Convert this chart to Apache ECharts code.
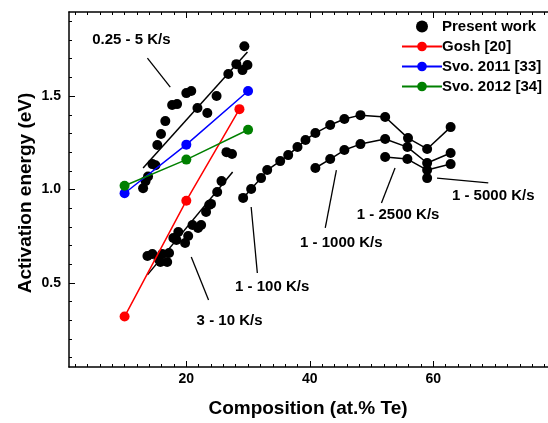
<!DOCTYPE html>
<html><head><meta charset="utf-8">
<script src="https://cdn.jsdelivr.net/npm/echarts@6/dist/echarts.min.js"></script>
<style>html,body{margin:0;padding:0;background:#fff}#c{width:548px;height:423px}</style>
</head><body><div id="c"></div>
<script>
// ---------- data ----------
const xTickLabels = [20, 40, 60];
const yTickLabels = [0.5, 1.0, 1.5];
const xMinorTicks = []; for (let v = 2; v <= 78; v += 2) xMinorTicks.push(v);
const yMinorTicks = []; for (let v = 1; v <= 19; v++) yMinorTicks.push(v / 10);

// Present work, 0.25 - 5 K/s
const present025_5 = [[13.0,1.007],[13.4,1.045],[13.8,1.07],[14.5,1.136],[15.0,1.13],[15.3,1.238],[15.9,1.297],[16.6,1.366],[17.7,1.452],[18.5,1.457],[20.0,1.516],[20.8,1.527],[21.8,1.436],[23.4,1.409],[24.9,1.50],[26.8,1.618],[28.1,1.671],[29.1,1.639],[29.9,1.666],[29.4,1.767],[26.5,1.20],[27.4,1.19]];
// Present work, 3 - 10 K/s
const present3_10 = [[13.7,0.644],[14.5,0.655],[15.5,0.628],[15.8,0.612],[16.1,0.655],[16.9,0.612],[17.2,0.66],[17.9,0.74],[18.4,0.73],[18.7,0.773],[19.8,0.714],[20.3,0.751],[21.0,0.81],[21.9,0.794],[22.4,0.81],[23.2,0.88],[23.7,0.917],[24.0,0.923],[25.0,0.987],[25.7,1.045]];
// Present work chains
const chain1_100 = [[29.2,0.955],[30.5,1.003],[32.1,1.061],[33.1,1.104],[35.2,1.152],[36.5,1.184],[38.0,1.227],[39.3,1.265],[40.9,1.302],[43.3,1.345],[45.6,1.377],[48.2,1.398],[52.2,1.388],[55.9,1.275],[59.0,1.217],[62.8,1.334]];
const chain1_1000 = [[40.9,1.115],[43.3,1.163],[45.6,1.211],[48.2,1.243],[52.2,1.270],[55.8,1.227],[59.0,1.142],[62.8,1.195]];
const chain1_2500 = [[52.2,1.174],[55.8,1.163],[59.0,1.104],[62.8,1.136]];
const point1_5000 = [[59.0,1.061]];
// linear fits
const fit025_5 = [[13.0,1.115],[29.9,1.736]];
const fit3_10 = [[13.7,0.543],[27.5,1.094]];
// literature
const gosh = [[10,0.32],[20,0.94],[28.6,1.43]];
const svo2011 = [[10,0.98],[20,1.24],[30,1.527]];
const svo2012 = [[10,1.02],[20,1.16],[30,1.32]];
// annotations: text, text position, leader from, leader to (data units)
const notes = [
  ['0.25 - 5 K/s', [11.1,1.80], [13.7,1.703], [17.4,1.548]],
  ['3 - 10 K/s',   [27.0,0.297], [20.8,0.639], [23.6,0.409]],
  ['1 - 100 K/s',  [33.9,0.479], [30.5,0.906], [31.5,0.553]],
  ['1 - 1000 K/s', [45.1,0.714], [44.3,1.104], [42.5,0.794]],
  ['1 - 2500 K/s', [54.3,0.864], [53.8,1.115], [51.6,0.928]],
  ['1 - 5000 K/s', [69.7,0.965], [60.6,1.061], [68.9,1.035]]
];

// ---------- chart ----------
const FONT = '"Liberation Sans", Arial, Helvetica, sans-serif';
const chart = echarts.init(document.getElementById('c'), null, {renderer: 'canvas'});
const XMIN = 1, XMAX = 80, YMIN = 0.05, YMAX = 1.95;

function xAx(pos, ticks, len, showLine, labels) {
  return {
    type: 'value', min: XMIN, max: XMAX, position: pos,
    axisLine: {show: showLine, onZero: false, lineStyle: {color: '#000', width: 1.5}},
    splitLine: {show: false},
    axisTick: {show: true, inside: true, length: len, customValues: ticks, lineStyle: {color: '#000', width: 1}},
    axisLabel: labels ? {show: true, customValues: labels, margin: 5, color: '#000', fontFamily: FONT, fontWeight: 'bold', fontSize: 14} : {show: false}
  };
}
function yAx(pos, ticks, len, showLine, labels) {
  return {
    type: 'value', min: YMIN, max: YMAX, position: pos,
    axisLine: {show: showLine, onZero: false, lineStyle: {color: '#000', width: 1.5}},
    splitLine: {show: false},
    axisTick: {show: true, inside: true, length: len, customValues: ticks, lineStyle: {color: '#000', width: 1}},
    axisLabel: labels ? {show: true, customValues: labels, margin: 8, color: '#000', fontFamily: FONT, fontWeight: 'bold', fontSize: 14,
      formatter: v => Number(v).toFixed(1)} : {show: false}
  };
}

const dot = 10;
const blackLine = {color: '#000', width: 1.5};
function chainSeries(name, data) {
  return {name: name, type: 'line', data: data, symbol: 'circle', symbolSize: dot, showSymbol: true,
    itemStyle: {color: '#000'}, lineStyle: {color: '#000', width: 1.5}, z: 3, silent: true};
}
function litSeries(name, data, color) {
  return {name: name, type: 'line', data: data, symbol: 'circle', symbolSize: dot,
    itemStyle: {color: color}, lineStyle: {color: color, width: 1.5}, z: 5, silent: true};
}

chart.setOption({
  animation: false,
  backgroundColor: '#fff',
  grid: {left: 69, top: 12, width: (XMAX - XMIN) * 6.175, height: 355, containLabel: false, outerBoundsMode: 'none'},
  xAxis: [
    xAx('bottom', xMinorTicks, 3, true, xTickLabels),
    xAx('bottom', xTickLabels, 6, false, null),
    xAx('top', xMinorTicks, 3, true, null),
    xAx('top', xTickLabels, 6, false, null)
  ],
  yAxis: [
    yAx('left', yMinorTicks, 3, true, yTickLabels),
    yAx('left', yTickLabels, 6, false, null)
  ],
  legend: {
    orient: 'vertical', left: 396, top: 14, itemWidth: 40, itemHeight: 12, itemGap: 5,
    data: ['Present work', 'Gosh [20]', 'Svo. 2011 [33]', 'Svo. 2012 [34]'],
    textStyle: {color: '#000', fontFamily: FONT, fontWeight: 'bold', fontSize: 15, padding: [0,0,0,-5]},
    selectedMode: false
  },
  series: [
    {name: 'fitA', type: 'line', data: fit025_5, symbol: 'none', lineStyle: blackLine, z: 2, silent: true},
    {name: 'fitB', type: 'line', data: fit3_10, symbol: 'none', lineStyle: blackLine, z: 2, silent: true},
    {name: 'Present work', type: 'scatter', data: present025_5.concat(present3_10, point1_5000), symbol: 'circle', symbolSize: dot,
      itemStyle: {color: '#000', opacity: 1}, z: 3, silent: true},
    chainSeries('c100', chain1_100),
    chainSeries('c1000', chain1_1000),
    chainSeries('c2500', chain1_2500),
    litSeries('Gosh [20]', gosh, '#ff0000'),
    litSeries('Svo. 2011 [33]', svo2011, '#0000ff'),
    litSeries('Svo. 2012 [34]', svo2012, '#008000')
  ]
});

// annotations and axis titles
const g = [];
const px = p => chart.convertToPixel({xAxisIndex: 0, yAxisIndex: 0}, p);
notes.forEach(n => {
  const t = px(n[1]), a = px(n[2]), b = px(n[3]);
  g.push({type: 'line', shape: {x1: a[0], y1: a[1], x2: b[0], y2: b[1]}, style: {stroke: '#000', lineWidth: 1.3}, z: 10, silent: true});
  g.push({type: 'text', x: t[0], y: t[1], style: {text: n[0], fill: '#000', font: 'bold 15px ' + FONT, align: 'center', verticalAlign: 'middle'}, z: 10, silent: true});
});
g.push({type: 'text', x: 308, y: 409, style: {text: 'Composition (at.% Te)', fill: '#000', font: 'bold 19px ' + FONT, align: 'center', verticalAlign: 'middle'}, z: 10});
g.push({type: 'text', x: 26, y: 193, rotation: Math.PI / 2, style: {text: 'Activation energy (eV)', fill: '#000', font: 'bold 19px ' + FONT, align: 'center', verticalAlign: 'middle'}, z: 10});
chart.setOption({graphic: g});
</script></body></html>
